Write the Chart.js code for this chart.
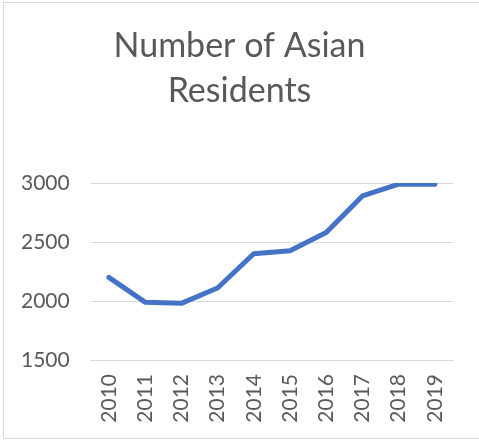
<!DOCTYPE html>
<html>
<head>
<meta charset="utf-8">
<script src="https://cdn.jsdelivr.net/npm/chart.js@4.4.1/dist/chart.umd.min.js"></script>
<style>
  html, body { margin: 0; padding: 0; background: #ffffff; }
  #wrap { position: relative; width: 479px; height: 441px; }
  #frame { position: absolute; left: 3px; top: 2px; width: 480px; height: 437px;
           border-left: 1px solid #d9d9d9; border-top: 1px solid #d9d9d9; border-bottom: 1px solid #d9d9d9; box-sizing: border-box; }
  canvas { position: absolute; left: 0; top: 0; }
</style>
</head>
<body>
<div id="wrap">
  <div id="frame"></div>
  <canvas id="c" width="479" height="441"></canvas>
</div>
<script>
const categories = ["2010", "2011", "2012", "2013", "2014", "2015", "2016", "2017", "2018", "2019"];
const asianResidents = [2200, 1990, 1980, 2110, 2400, 2425, 2580, 2890, 2990, 2990];
const titleLines = ["Number of Asian", "Residents"];
const yMin = 1500, yMax = 3000, yStep = 500;

new Chart(document.getElementById('c'), {
  type: 'line',
  data: {
    labels: categories,
    datasets: [{
      data: asianResidents,
      borderColor: '#4472C4',
      borderWidth: 5,
      pointRadius: 0,
      tension: 0,
      fill: false,
      borderCapStyle: 'round',
      borderJoinStyle: 'round'
    }]
  },
  options: {
    responsive: false,
    animation: false,
    layout: { padding: { left: 0, right: 0, top: 0, bottom: 18 } },
    plugins: {
      legend: { display: false },
      tooltip: { enabled: false },
      title: {
        display: true,
        text: titleLines,
        color: '#595959',
        font: { family: 'Lato', size: 34, weight: 'normal', lineHeight: '45px' },
        padding: { top: 24, bottom: 69 }
      }
    },
    scales: {
      x: {
        offset: true,
        grid: { display: false, drawTicks: false },
        border: { display: true, color: '#d9d9d9', width: 1 },
        ticks: {
          color: '#595959',
          font: { family: 'Lato', size: 21 },
          maxRotation: 90, minRotation: 90,
          padding: 14
        },
        afterFit: (s) => { s.height = 63; }
      },
      y: {
        min: yMin, max: yMax,
        ticks: {
          stepSize: yStep,
          color: '#595959',
          font: { family: 'Lato', size: 21 },
          padding: 21,
          callback: (v) => String(v)
        },
        grid: { color: '#d9d9d9', drawTicks: false, lineWidth: 1 },
        border: { display: false }
      },
      rightSpace: {
        position: 'right',
        display: true,
        grid: { display: false, drawTicks: false },
        border: { display: false },
        ticks: { display: false },
        afterFit: (s) => { s.width = 26; }
      }
    }
  }
});
</script>
</body>
</html>
